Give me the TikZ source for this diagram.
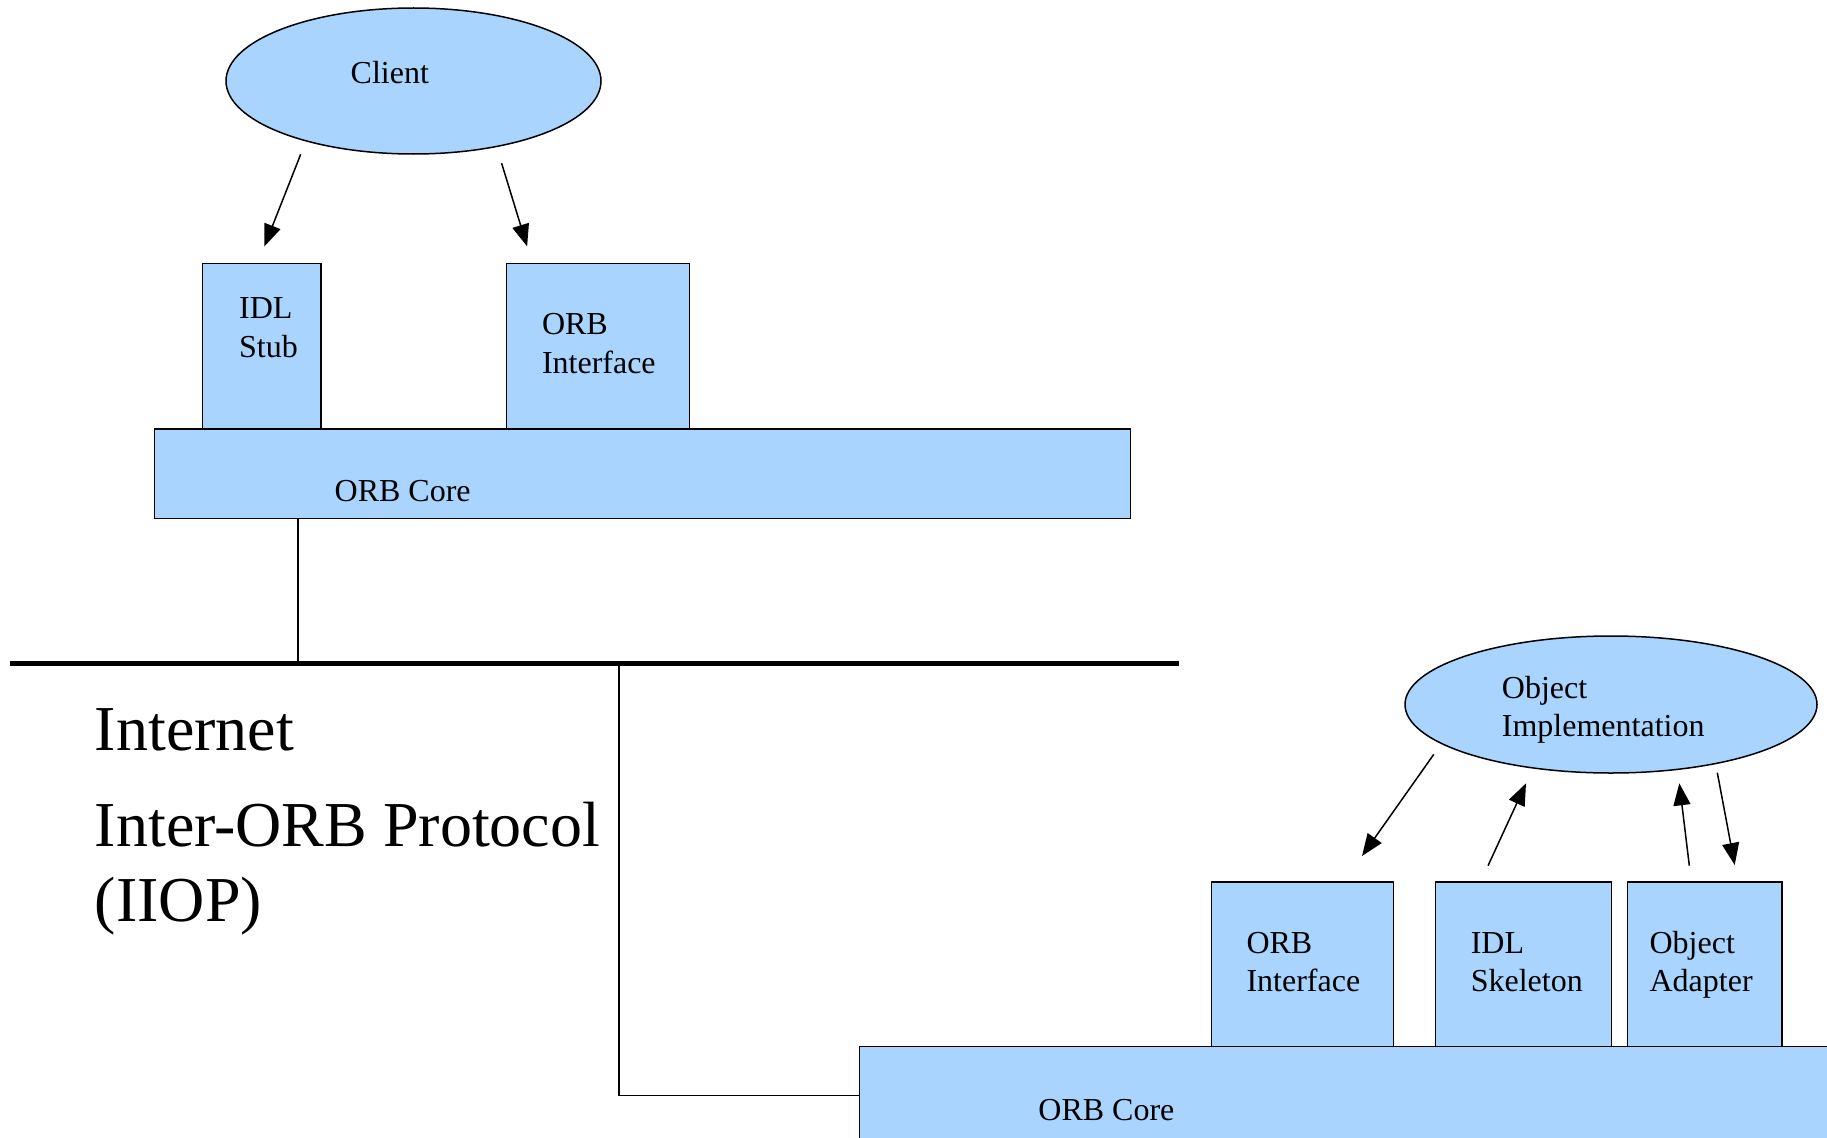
\documentclass[tikz,border=0pt]{standalone}
\usepackage{fontspec}
\setmainfont{Liberation Serif}
\usetikzlibrary{shapes.geometric,arrows.meta}
\definecolor{boxblue}{RGB}{168,212,254}
\tikzset{
  blk/.style={draw=black,fill=boxblue,line width=1.5pt,inner sep=0pt},
  oval/.style={blk,ellipse},
  lbl/.style={anchor=base west,inner sep=0pt,align=left,font=\fontsize{32}{38.4}\selectfont},
  biglbl/.style={anchor=base west,inner sep=0pt,align=left,font=\fontsize{64}{75}\selectfont},
  arr/.style={line width=1.5pt,-{Triangle[length=22pt,width=17pt]}},
  wire/.style={line width=1.5pt},
  bus/.style={line width=5pt}
}
\begin{document}
\begin{tikzpicture}[x=1pt,y=-1pt]
\useasboundingbox (0,0) rectangle (1827,1137);
\clip (0,0) rectangle (1827,1137);
% ---------- client side ----------
\node[oval,minimum width=375pt,minimum height=146pt] (client) at (413.5,81) {};
\node[lbl] (clientT) at (350.5,84) {Client};
\node[blk,minimum width=118.5pt,minimum height=165.5pt] (stub) at (261.75,346) {};
\node[lbl] (stubT) at (239,357) {IDL\\Stub};
\node[blk,minimum width=183pt,minimum height=165.5pt] (orbi1) at (598.2,346) {};
\node[lbl] (orbi1T) at (541.8,373) {ORB\\Interface};
\node[blk,minimum width=975.9pt,minimum height=89.8pt] (core1) at (642.45,473.7) {};
\node[lbl] (core1T) at (334.5,501.8) {ORB Core};
\coordinate (a1s) at (300.7,154.3); \coordinate (a1e) at (264.4,246.4);
\coordinate (a2s) at (501.6,163.2); \coordinate (a2e) at (527.1,246.4);
\draw[arr] (a1s) -- (a1e);
\draw[arr] (a2s) -- (a2e);
% ---------- network ----------
\coordinate (n1) at (298.2,518.6);
\coordinate (n2) at (298.2,663);
\coordinate (busL) at (10.3,663);
\coordinate (busR) at (1179,663);
\coordinate (n3) at (619,663);
\coordinate (n4) at (619,1095.3);
\coordinate (n5) at (859.3,1095.3);
\draw[wire] (n1) -- (n2);
\draw[bus] (busL) -- (busR);
\draw[wire] (n3) -- (n4) -- (n5);
\node[biglbl] (inet) at (94.7,750.7) {Internet};
\node[biglbl] (iiop) at (94.7,921.7) {Inter-ORB Protocol\\(IIOP)};
% ---------- server side ----------
\node[oval,minimum width=412pt,minimum height=137pt] (impl) at (1611,704.5) {};
\node[lbl] (implT) at (1501.7,736.7) {Object\\Implementation};
\node[blk,minimum width=181.9pt,minimum height=164.7pt] (orbi2) at (1302.55,964.35) {};
\node[lbl] (orbi2T) at (1246.3,991.7) {ORB\\Interface};
\node[blk,minimum width=176.1pt,minimum height=164.7pt] (skel) at (1523.35,964.35) {};
\node[lbl] (skelT) at (1470.6,991.7) {IDL\\Skeleton};
\node[blk,minimum width=154.8pt,minimum height=164.7pt] (adapt) at (1704.8,964.35) {};
\node[lbl] (adaptT) at (1649.4,991.7) {Object\\Adapter};
\draw[blk] (859.3,1046.7) rectangle (1900,1200);
\coordinate (core2) at (859.3,1046.7);
\node[lbl] (core2T) at (1038.2,1120) {ORB Core};
\coordinate (b1s) at (1433.8,754.3); \coordinate (b1e) at (1362,856);
\coordinate (b2s) at (1488,865.7);   \coordinate (b2e) at (1526,783.3);
\coordinate (b3s) at (1689.3,865.7); \coordinate (b3e) at (1679.3,783.3);
\coordinate (b4s) at (1717.3,772.7); \coordinate (b4e) at (1734.7,865);
\draw[arr] (b1s) -- (b1e);
\draw[arr] (b2s) -- (b2e);
\draw[arr] (b3s) -- (b3e);
\draw[arr] (b4s) -- (b4e);
\end{tikzpicture}
\end{document}
